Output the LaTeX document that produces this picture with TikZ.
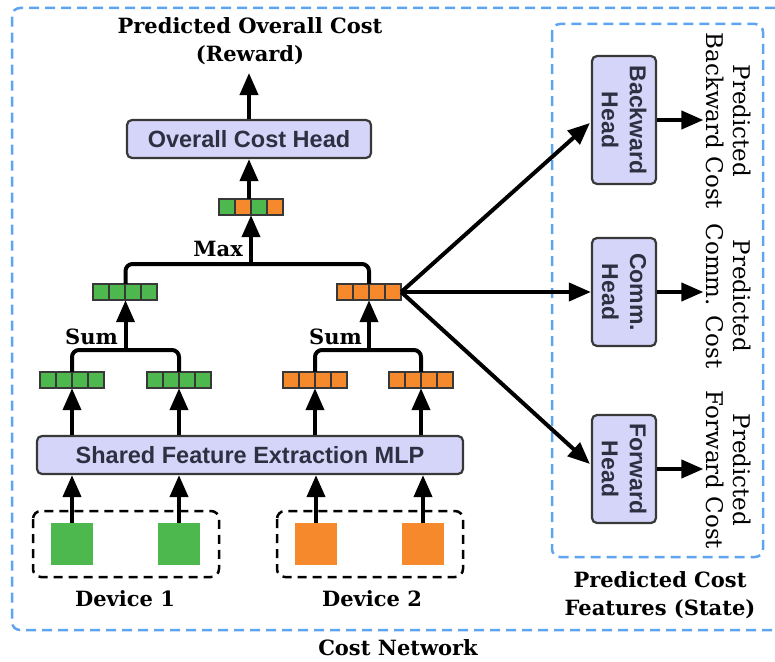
\documentclass[tikz,border=0pt]{standalone}
\usepackage{fontspec}
\setmainfont{DejaVu Serif}
\newfontfamily\headfont{Liberation Sans}
\usetikzlibrary{arrows.meta,calc}

\definecolor{netblue}{HTML}{5FA4EE}
\definecolor{devgreen}{HTML}{4CB84E}
\definecolor{devorange}{HTML}{F6892C}
\definecolor{headfill}{HTML}{D5D5F9}
\definecolor{headline}{HTML}{383838}
\definecolor{headtext}{HTML}{2E3042}

% feature vector of four cells: name, centre, four cell colours
\newcommand{\featvec}[6]{%
  \node[vecbox] (#1) at (#2) {};
  \foreach \cc [count=\i from 0] in {#3,#4,#5,#6}
    \filldraw[fill=\cc, cell] ($(#1.west)+({\i*16},-8)$) rectangle ++(16,16);
}

\begin{document}
\begin{tikzpicture}[x=1pt,y=-1pt,
  arr/.style={line width=4pt, -{Triangle[length=22pt,width=18pt]}},
  link/.style={line width=4pt, rounded corners=7pt},
  headbox/.style={draw=headline, fill=headfill, line width=2.2pt, rounded corners=5pt,
    inner sep=0pt, font=\headfont\bfseries\fontsize{23.5}{28}\selectfont, text=headtext, align=center},
  headtxt/.style={font=\headfont\bfseries\fontsize{23}{28}\selectfont, text=headtext, align=center, inner sep=0pt},
  vecbox/.style={inner sep=0pt, minimum width=64pt, minimum height=16pt},
  cell/.style={draw=headline, line width=1.8pt},
  inbox/.style={inner sep=0pt, minimum size=42pt},
  devbox/.style={draw=black, line width=2.5pt, dash pattern=on 9pt off 6pt, rounded corners=8pt},
  netbox/.style={draw=netblue, line width=2.5pt, dash pattern=on 10pt off 6pt, rounded corners=8pt},
  title/.style={font=\bfseries\fontsize{21}{28}\selectfont, align=center, inner sep=0pt},
  outlabel/.style={font=\fontsize{23}{27}\selectfont, align=center, inner sep=3pt, rotate=-90},
]
\useasboundingbox (0,0) rectangle (775,661);

% enclosing network frames
\draw[netbox] (775,8) -- (12,8) -- (12,630) -- (775,630);
\draw[netbox] (552,24) rectangle (763,557);
\node[title] (netname) at (398,648) {Cost Network};
\node[title] (featname) at (660,595) {Predicted Cost\\Features (State)};

% device inputs
\draw[devbox] (33,511) rectangle (219,577);
\draw[devbox] (277,511) rectangle (463,577);
\node[inbox, fill=devgreen] (in1) at (72,544) {};
\node[inbox, fill=devgreen] (in2) at (179,544) {};
\node[inbox, fill=devorange] (in3) at (316,544) {};
\node[inbox, fill=devorange] (in4) at (423,544) {};
\node[title] (dev1) at (125,599) {Device 1};
\node[title] (dev2) at (372,599) {Device 2};

% shared MLP
\node[headbox, minimum width=426pt, minimum height=38pt] (mlp) at (250,455) {Shared Feature Extraction MLP};
\foreach \n in {in1,in2,in3,in4}
  \draw[arr] (\n.north) -- (\n.north |- mlp.south);

% per-sample features
\featvec{v1}{72,380}{devgreen}{devgreen}{devgreen}{devgreen}
\featvec{v2}{179,380}{devgreen}{devgreen}{devgreen}{devgreen}
\featvec{v3}{315,380}{devorange}{devorange}{devorange}{devorange}
\featvec{v4}{421,380}{devorange}{devorange}{devorange}{devorange}
\foreach \n in {v1,v2,v3,v4}
  \draw[arr] (mlp.north -| \n.south) -- (\n.south);

% sum pooling per device
\coordinate (sumy) at (0,350);
\featvec{s1}{125.5,292}{devgreen}{devgreen}{devgreen}{devgreen}
\featvec{s2}{369,292}{devorange}{devorange}{devorange}{devorange}
\draw[link] (v1.north) -- (v1.north |- sumy) -- (v2.north |- sumy) -- (v2.north);
\draw[link] (v3.north) -- (v3.north |- sumy) -- (v4.north |- sumy) -- (v4.north);
\draw[arr] (s1.south |- sumy) -- (s1.south);
\draw[arr] (s2.south |- sumy) -- (s2.south);
\node[title, anchor=east] (sum1) at (118,337) {Sum};
\node[title, anchor=east] (sum2) at (362,337) {Sum};

% max pooling across devices
\coordinate (maxy) at (0,264);
\featvec{mx}{251,207}{devgreen}{devorange}{devgreen}{devorange}
\draw[link] (s1.north) -- (s1.north |- maxy) -- (s2.north |- maxy) -- (s2.north);
\draw[arr] (mx.south |- maxy) -- (mx.south);
\node[title, anchor=east] (maxlbl) at (243,249) {Max};

% overall cost head
\node[headbox, minimum width=244pt, minimum height=38pt] (och) at (249,139) {Overall Cost Head};
\draw[arr] (mx.north -| och.south) -- (och.south);
\coordinate (rewardtip) at (249,73);
\draw[arr] (och.north) -- (rewardtip);
\node[title] (reward) at (250,41) {Predicted Overall Cost\\(Reward)};

% cost feature heads
\node[headbox, minimum width=64pt, minimum height=128pt] (bw) at (624,120) {};
\node[headtxt, rotate=-90] (bwtxt) at (bw) {Backward\\Head};
\node[headbox, minimum width=64pt, minimum height=108pt] (cm) at (624,292) {};
\node[headtxt, rotate=-90] (cmtxt) at (cm) {Comm.\\Head};
\node[headbox, minimum width=64pt, minimum height=108pt] (fw) at (624,469) {};
\node[headtxt, rotate=-90] (fwtxt) at (fw) {Forward\\Head};

\draw[arr] (s2.east) -- ($(bw.west)+(-1,3)$);
\draw[arr] (s2.east) -- (cm.west);
\draw[arr] (s2.east) -- ($(fw.west)+(-1,-5)$);

\node[outlabel] (bwout) at (729,121) {Predicted\\Backward Cost};
\node[outlabel] (cmout) at (729,296) {Predicted\\Comm. Cost};
\node[outlabel] (fwout) at (729,470) {Predicted\\Forward Cost};
\draw[arr] (bw.east) -- (bw.east -| bwout.south);
\draw[arr] (cm.east) -- (cm.east -| cmout.south);
\draw[arr] (fw.east) -- (fw.east -| fwout.south);
\end{tikzpicture}
\end{document}
